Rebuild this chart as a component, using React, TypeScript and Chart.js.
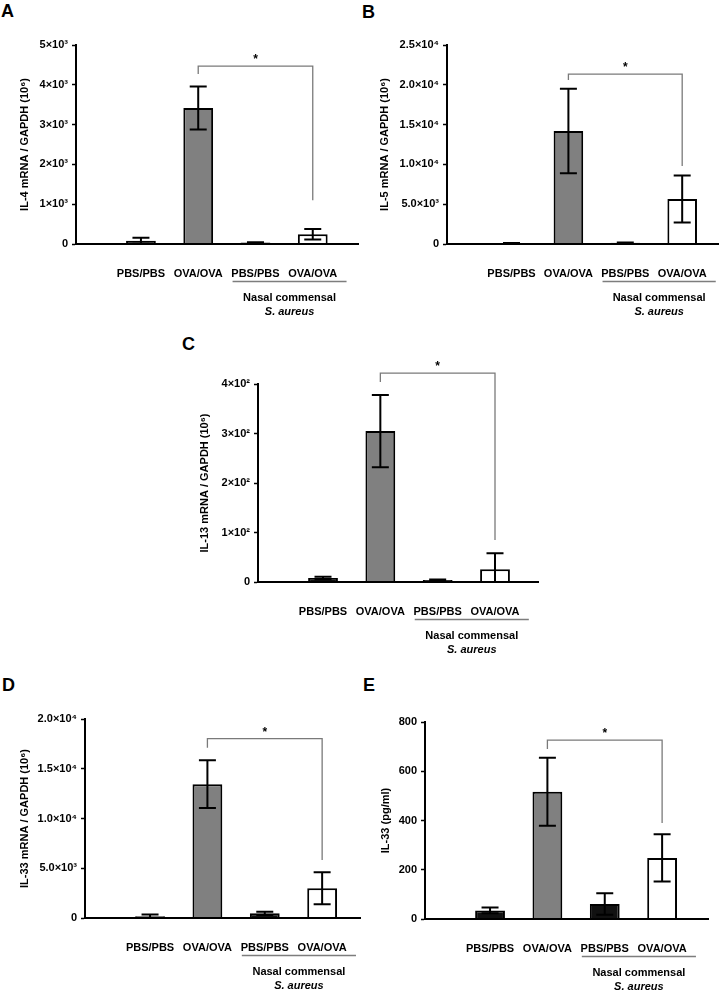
import React, { useEffect, useRef } from 'react';
import { Chart, registerables } from 'chart.js';

Chart.register(...registerables);

// ---------- data ----------
const categories = ['PBS/PBS', 'OVA/OVA', 'PBS/PBS', 'OVA/OVA'];
const groupLine1 = 'Nasal commensal';
const groupLine2 = 'S. aureus';
const barFills = ['#111111', '#808080', '#111111', '#ffffff'];
const significance = '*';

const il4Means = [80, 3420, 35, 245];
const il4Errors = [75, 540, 12, 135];
const il4Ticks = ['0', '1×10³', '2×10³', '3×10³', '4×10³', '5×10³'];
const il4Bracket = [4470, 4270, 1100];

const il5Means = [100, 14200, 150, 5650];
const il5Errors = [40, 5300, 50, 2950];
const il5Ticks = ['0', '5.0×10³', '1.0×10⁴', '1.5×10⁴', '2.0×10⁴', '2.5×10⁴'];
const il5Bracket = [21350, 20600, 9800];

const il13Means = [8, 305, 4, 26];
const il13Errors = [2.5, 73, 1, 32];
const il13Ticks = ['0', '1×10²', '2×10²', '3×10²', '4×10²'];
const il13Bracket = [422, 404, 85];

const il33mMeans = [180, 13450, 470, 2990];
const il33mErrors = [170, 2400, 160, 1620];
const il33mTicks = ['0', '5.0×10³', '1.0×10⁴', '1.5×10⁴', '2.0×10⁴'];
const il33mBracket = [18020, 17110, 5840];

const il33pMeans = [35, 517, 61, 248];
const il33pErrors = [12, 138, 44, 96];
const il33pTicks = ['0', '200', '400', '600', '800'];
const il33pBracket = [726, 690, 390];

// ---------- layout ----------
const FONT = "'Liberation Sans', Arial, Helvetica, sans-serif";
const Y_W = 76;
const PAD_T = 30;
const PAD_R = 2;
const X_H = 80;
const X_MIN = -0.134;

type PanelCfg = {
  letter: string;
  title: string;
  means: number[];
  errors: number[];
  ticks: string[];
  bracket: number[];
  yMax: number;
  step: number;
  axisLeft: number;
  right: number;
  top: number;
  bottom: number;
  titlePad: number;
  xMax: number;
  letterX: number;
  letterY: number;
};

const panels: PanelCfg[] = [
  { letter: 'A', title: 'IL-4 mRNA / GAPDH (10⁶)', means: il4Means, errors: il4Errors, ticks: il4Ticks, bracket: il4Bracket,
    yMax: 5000, step: 1000, axisLeft: 76, right: 358, top: 45, bottom: 244, titlePad: 18.4, xMax: 4.79, letterX: 1, letterY: 2 },
  { letter: 'B', title: 'IL-5 mRNA / GAPDH (10⁶)', means: il5Means, errors: il5Errors, ticks: il5Ticks, bracket: il5Bracket,
    yMax: 25000, step: 5000, axisLeft: 447, right: 720, top: 45, bottom: 244, titlePad: 7.4, xMax: 4.63, letterX: 362, letterY: 3 },
  { letter: 'C', title: 'IL-13 mRNA / GAPDH (10⁶)', means: il13Means, errors: il13Errors, ticks: il13Ticks, bracket: il13Bracket,
    yMax: 400, step: 100, axisLeft: 258, right: 538, top: 384, bottom: 582, titlePad: 16.4, xMax: 4.75, letterX: 182, letterY: 335 },
  { letter: 'D', title: 'IL-33 mRNA / GAPDH (10⁶)', means: il33mMeans, errors: il33mErrors, ticks: il33mTicks, bracket: il33mBracket,
    yMax: 20000, step: 5000, axisLeft: 85, right: 360, top: 719, bottom: 918, titlePad: 9.4, xMax: 4.66, letterX: 2, letterY: 676 },
  { letter: 'E', title: 'IL-33 (pg/ml)', means: il33pMeans, errors: il33pErrors, ticks: il33pTicks, bracket: il33pBracket,
    yMax: 800, step: 200, axisLeft: 425, right: 708, top: 722, bottom: 919, titlePad: 30.4, xMax: 4.8, letterX: 363, letterY: 676 },
];

function Panel({ cfg }: { cfg: PanelCfg }) {
  const ref = useRef<HTMLCanvasElement | null>(null);
  const cLeft = cfg.axisLeft - Y_W;
  const cTop = cfg.top - PAD_T;
  const cW = cfg.right + PAD_R - cLeft;
  const cH = cfg.bottom - cTop + X_H;

  useEffect(() => {
    if (!ref.current) return;
    const annot = {
      id: 'annot' + cfg.letter,
      afterDatasetsDraw(chart: any) {
        const ctx = chart.ctx;
        const xs = chart.scales.x;
        const ys = chart.scales.y;
        const meta = chart.getDatasetMeta(0);
        ctx.save();
        // error bars
        ctx.strokeStyle = '#000';
        ctx.lineWidth = 2;
        const cap = 8.5;
        cfg.means.forEach((m, i) => {
          const x = meta.data[i].x;
          const e = cfg.errors[i];
          const yt = ys.getPixelForValue(m + e);
          const lo = m - e;
          const yb = ys.getPixelForValue(Math.max(0, lo));
          ctx.beginPath();
          ctx.moveTo(x, yt);
          ctx.lineTo(x, yb);
          ctx.moveTo(x - cap, yt);
          ctx.lineTo(x + cap, yt);
          if (lo > 0) {
            ctx.moveTo(x - cap, yb);
            ctx.lineTo(x + cap, yb);
          }
          ctx.stroke();
        });
        // significance bracket between OVA/OVA groups
        const xa = xs.getPixelForValue(2);
        const xb = xs.getPixelForValue(4);
        const yh = ys.getPixelForValue(cfg.bracket[0]);
        const yl = ys.getPixelForValue(cfg.bracket[1]);
        const yr = ys.getPixelForValue(cfg.bracket[2]);
        ctx.strokeStyle = '#7a7a7a';
        ctx.lineWidth = 1.3;
        ctx.beginPath();
        ctx.moveTo(xa, yl);
        ctx.lineTo(xa, yh);
        ctx.lineTo(xb, yh);
        ctx.lineTo(xb, yr);
        ctx.stroke();
        ctx.fillStyle = '#000';
        ctx.font = `bold 12px ${FONT}`;
        ctx.textAlign = 'center';
        ctx.textBaseline = 'alphabetic';
        ctx.fillText(significance, (xa + xb) / 2, yh - 3);
        // group annotation under the x axis
        const base = chart.chartArea.bottom;
        const g0 = xs.getPixelForValue(2.6);
        const g1 = xs.getPixelForValue(4.59);
        ctx.strokeStyle = '#7d7d7d';
        ctx.lineWidth = 1.3;
        ctx.beginPath();
        ctx.moveTo(g0, base + 37.5);
        ctx.lineTo(g1, base + 37.5);
        ctx.stroke();
        const gc = (g0 + g1) / 2;
        ctx.textBaseline = 'middle';
        ctx.font = `bold 11px ${FONT}`;
        ctx.fillText(groupLine1, gc, base + 54);
        ctx.font = `italic bold 11px ${FONT}`;
        ctx.fillText(groupLine2, gc, base + 68);
        ctx.restore();
      },
    };

    const chart = new Chart(ref.current, {
      type: 'bar',
      data: {
        datasets: [
          {
            data: cfg.means.map((m, i) => ({ x: i + 1, y: m })),
            backgroundColor: barFills,
            borderColor: '#000',
            borderWidth: 2,
            barPercentage: 0.52,
            categoryPercentage: 1,
          },
        ],
      },
      options: {
        responsive: false,
        maintainAspectRatio: false,
        animation: false,
        devicePixelRatio: 1,
        events: [],
        layout: { padding: { top: PAD_T, right: PAD_R, left: 0, bottom: 0 } },
        plugins: { legend: { display: false }, tooltip: { enabled: false } },
        scales: {
          x: {
            type: 'linear',
            min: X_MIN,
            max: cfg.xMax,
            offset: false,
            grid: { display: false, offset: false },
            border: { display: true, color: '#000', width: 2, z: 1 },
            afterBuildTicks: (s: any) => {
              s.ticks = categories.map((_, i) => ({ value: i + 1 }));
            },
            afterFit: (s: any) => {
              s.height = X_H;
            },
            ticks: {
              autoSkip: false,
              maxRotation: 0,
              minRotation: 0,
              padding: 15,
              color: '#000',
              font: { family: FONT, size: 11, weight: 'bold' },
              callback: (v: any) => categories[Math.round(Number(v)) - 1] ?? '',
            },
          },
          y: {
            type: 'linear',
            min: 0,
            max: cfg.yMax,
            grid: {
              drawOnChartArea: false,
              drawTicks: true,
              tickLength: 4,
              tickColor: '#000',
              tickWidth: 1.5,
              color: '#000',
            },
            border: { display: true, color: '#000', width: 2, z: 1 },
            afterFit: (s: any) => {
              s.width = Y_W;
            },
            ticks: {
              stepSize: cfg.step,
              padding: 4,
              color: '#000',
              font: { family: FONT, size: 11, weight: 'bold' },
              callback: (v: any) => cfg.ticks[Math.round(Number(v) / cfg.step)] ?? '',
            },
            title: {
              display: true,
              text: cfg.title,
              color: '#000',
              font: { family: FONT, size: 11, weight: 'bold' },
              padding: { top: cfg.titlePad, bottom: 0 },
            },
          },
        },
      },
      plugins: [annot],
    } as any);
    return () => chart.destroy();
  }, [cfg]);

  return (
    <>
      <div
        style={{
          position: 'absolute',
          left: cfg.letterX,
          top: cfg.letterY,
          font: `bold 18px ${FONT}`,
          lineHeight: '18px',
          color: '#000',
        }}
      >
        {cfg.letter}
      </div>
      <canvas
        ref={ref}
        width={cW}
        height={cH}
        style={{ position: 'absolute', left: cLeft, top: cTop, width: cW, height: cH }}
      />
    </>
  );
}

export default function App() {
  return (
    <div
      style={{
        position: 'absolute',
        left: 0,
        top: 0,
        width: 722,
        height: 992,
        overflow: 'hidden',
        background: '#fff',
      }}
    >
      {panels.map((p) => (
        <Panel key={p.letter} cfg={p} />
      ))}
    </div>
  );
}
